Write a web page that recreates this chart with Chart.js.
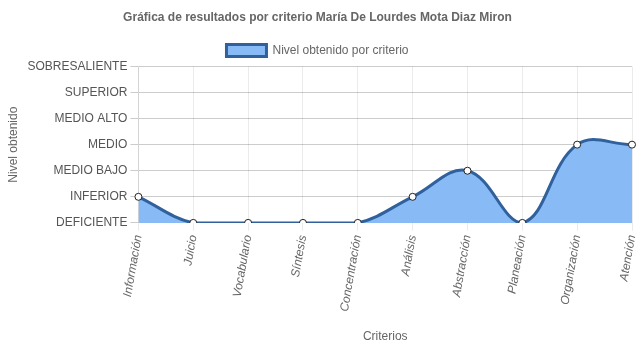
<!DOCTYPE html>
<html>
<head>
<meta charset="utf-8">
<script src="https://cdn.jsdelivr.net/npm/chart.js@4/dist/chart.umd.min.js"></script>
<style>
  html, body { margin: 0; padding: 0; background: #fff; }
  #wrap { width: 637px; height: 348px; }
</style>
</head>
<body>
<div id="wrap"><canvas id="chart"></canvas></div>
<script>
const criterios = ['Información', 'Juicio', 'Vocabulario', 'Síntesis', 'Concentración',
  'Análisis', 'Abstracción', 'Planeación', 'Organización', 'Atención'];
const niveles = ['DEFICIENTE', 'INFERIOR', 'MEDIO BAJO', 'MEDIO', 'MEDIO ALTO', 'SUPERIOR', 'SOBRESALIENTE'];
// nivel obtenido, como indice en niveles
const valores = [1, 0, 0, 0, 0, 1, 2, 0, 3, 3];

Chart.defaults.font.family = 'Arial, "Liberation Sans", Helvetica, sans-serif';
Chart.defaults.font.size = 12;
Chart.defaults.color = '#666';

const ctx = document.getElementById('chart').getContext('2d');
new Chart(ctx, {
  type: 'line',
  data: {
    labels: criterios,
    datasets: [{
      label: 'Nivel obtenido por criterio',
      data: valores,
      fill: 'origin',
      backgroundColor: '#88bbf5',
      borderColor: '#30619c',
      borderWidth: 3,
      tension: 0.4,
      pointRadius: 3.5,
      pointBackgroundColor: '#fff',
      pointBorderColor: '#222',
      pointBorderWidth: 1
    }]
  },
  options: {
    responsive: true,
    maintainAspectRatio: false,
    animation: false,
    layout: { padding: { left: 2, right: 4, top: 0, bottom: 0 } },
    plugins: {
      title: {
        display: true,
        text: 'Gráfica de resultados por criterio María De Lourdes Mota Diaz Miron',
        font: { size: 12, weight: 'bold' },
        color: '#666',
        padding: { top: 10, bottom: 10 }
      },
      legend: {
        labels: {
          boxWidth: 40,
          boxHeight: 12,
          color: '#666',
          font: { size: 12 }
        }
      },
      tooltip: { enabled: false }
    },
    scales: {
      x: {
        grid: { color: 'rgba(0,0,0,0.08)', tickLength: 8 },
        ticks: {
          minRotation: 80,
          maxRotation: 80,
          font: { style: 'italic', size: 12 },
          color: '#666'
        },
        title: { display: true, text: 'Criterios', color: '#666', padding: { top: 14 } },
        afterFit: s => { s.paddingRight = 0; }
      },
      y: {
        min: 0,
        max: niveles.length - 1,
        grid: { color: 'rgba(0,0,0,0.2)', tickLength: 8 },
        ticks: {
          stepSize: 1,
          color: '#555',
          font: { size: 12 },
          callback: v => niveles[v]
        },
        title: { display: true, text: 'Nivel obtenido', color: '#666' }
      }
    }
  }
});
</script>
</body>
</html>
